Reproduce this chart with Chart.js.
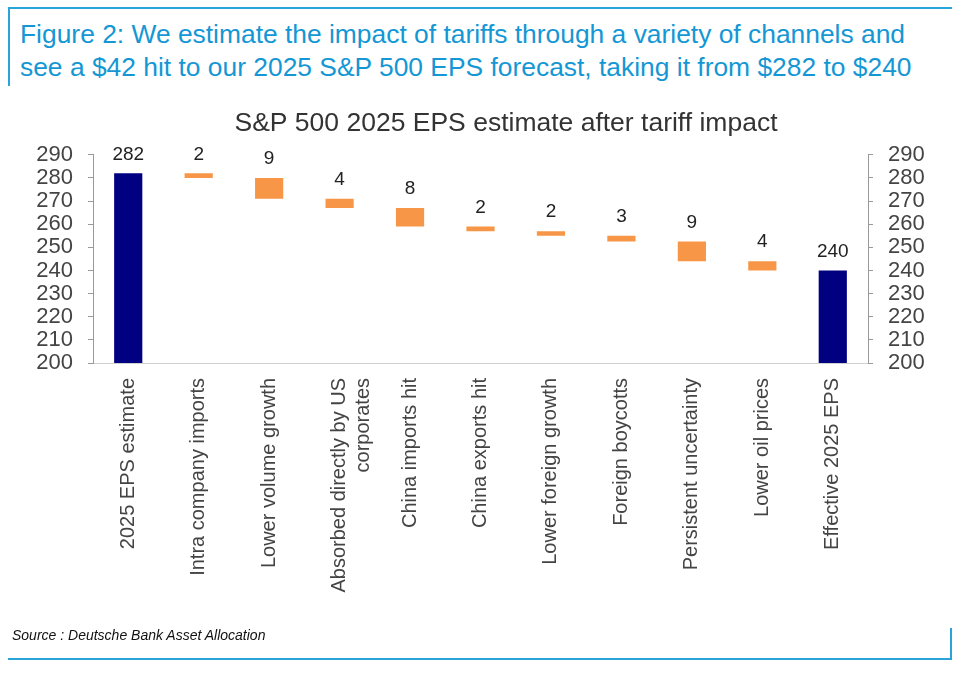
<!DOCTYPE html>
<html lang="en">
<head>
<meta charset="UTF-8">
<title>S&amp;P 500 2025 EPS estimate after tariff impact</title>
<script src="https://cdn.jsdelivr.net/npm/chart.js@4"></script>
<style>
    html, body { margin: 0; padding: 0; background: #fff; }
    body { width: 960px; height: 674px; position: relative; overflow: hidden; font-family: "Liberation Sans", Arial, sans-serif; }
    #grafico { position: absolute; left: 0; top: 0; }
    .linha { position: absolute; background: #2aa3d9; }
    .cabeca { position: absolute; left: 20px; top: 18px; color: #1497d4; font-size: 26.4px; line-height: 33px; white-space: nowrap; }
    .fonte { position: absolute; left: 12px; top: 627px; font-size: 14px; font-style: italic; color: #111; }
</style>
</head>
<body>
    <div class="linha" style="left:8px; top:7px; width:944px; height:2px;"></div>
    <div class="linha" style="left:8px; top:7px; width:2px; height:79px;"></div>
    <div class="cabeca">Figure 2: We estimate the impact of tariffs through a variety of channels and<br>see a $42 hit to our 2025 S&amp;P 500 EPS forecast, taking it from $282 to $240</div>

    <!-- canvas mais largo que a janela para centralizar o titulo como no original -->
    <canvas id="grafico" width="1012" height="674"></canvas>

    <div class="fonte">Source : Deutsche Bank Asset Allocation</div>
    <div class="linha" style="left:8px; top:658px; width:944px; height:2px;"></div>
    <div class="linha" style="left:950px; top:628px; width:2px; height:32px;"></div>

<script>
    // dados
    const categorias = ['2025 EPS estimate', 'Intra company imports', 'Lower volume growth',
        ['Absorbed directly by US', 'corporates'], 'China imports hit', 'China exports hit',
        'Lower foreign growth', 'Foreign boycotts', 'Persistent uncertainty', 'Lower oil prices',
        'Effective 2025 EPS'];
    const totais = [282, null, null, null, null, null, null, null, null, null, 240];
    const impactoTopo = [null, 282, 280, 271, 267, 259, 257, 255, 252.5, 244, null];
    const impactoBase = [null, 280, 271, 267, 259, 257, 255, 252.5, 244, 240, null];
    const rotulos = ['282', '2', '9', '4', '8', '2', '2', '3', '9', '4', '240'];
    const eixoMin = 200;
    const eixoMax = 290;
    const eixoPasso = 10;

    const fonteBase = '"Liberation Sans", Arial, sans-serif';

    const impactos = impactoTopo.map((t, i) => t === null ? null : [impactoBase[i], t]);

    const rotulosPlugin = {
        id: 'rotulos',
        afterDatasetsDraw(chart) {
            const ctx = chart.ctx;
            const x = chart.scales.x;
            const y = chart.scales.y;
            ctx.save();
            ctx.font = '19px ' + fonteBase;
            ctx.fillStyle = '#222';
            ctx.textAlign = 'center';
            ctx.textBaseline = 'middle';
            rotulos.forEach(function (txt, i) {
                const topo = totais[i] !== null ? totais[i] : impactoTopo[i];
                ctx.fillText(txt, x.getPixelForValue(i), y.getPixelForValue(topo) - 19);
            });
            ctx.restore();
        }
    };

    function eixoY(posicao, largura) {
        return {
            position: posicao,
            min: eixoMin,
            max: eixoMax,
            ticks: { stepSize: eixoPasso, autoSkip: false, color: '#444', padding: 15, font: { size: 22, family: fonteBase } },
            grid: { display: true, drawOnChartArea: false, drawTicks: true, tickLength: 5, color: '#999' },
            border: { display: true, color: '#999' },
            afterFit: function (s) { s.width = largura; }
        };
    }

    const config = {
        type: 'bar',
        data: {
            labels: categorias,
            datasets: [{
                label: 'EPS',
                data: totais,
                backgroundColor: '#000080',
                grouped: false,
                barPercentage: 0.4,
                categoryPercentage: 1,
                yAxisID: 'y'
            }, {
                label: 'Tariff impact',
                data: impactos,
                backgroundColor: '#F79646',
                grouped: false,
                barPercentage: 0.4,
                categoryPercentage: 1,
                yAxisID: 'y'
            }]
        },
        options: {
            responsive: false,
            animation: false,
            devicePixelRatio: 1,
            layout: { padding: { top: 99, left: 0, right: 0, bottom: 0 } },
            plugins: {
                legend: { display: false },
                tooltip: { enabled: false },
                title: {
                    display: true,
                    text: 'S&P 500 2025 EPS estimate after tariff impact',
                    color: '#333',
                    font: { size: 26.5, weight: 'normal', family: fonteBase },
                    padding: { top: 9, bottom: 15 }
                }
            },
            scales: {
                x: {
                    grid: { display: false },
                    border: { display: true, color: '#d0d0d0' },
                    ticks: {
                        color: '#444', padding: 7, autoSkip: false,
                        minRotation: 90, maxRotation: 90,
                        font: { size: 20, family: fonteBase }
                    },
                    afterFit: function (s) { s.height = 311; }
                },
                y: eixoY('left', 93),
                y2: eixoY('right', 144)
            }
        },
        plugins: [rotulosPlugin]
    };

    let myChart = new Chart(document.getElementById('grafico'), config);
</script>
</body>
</html>
